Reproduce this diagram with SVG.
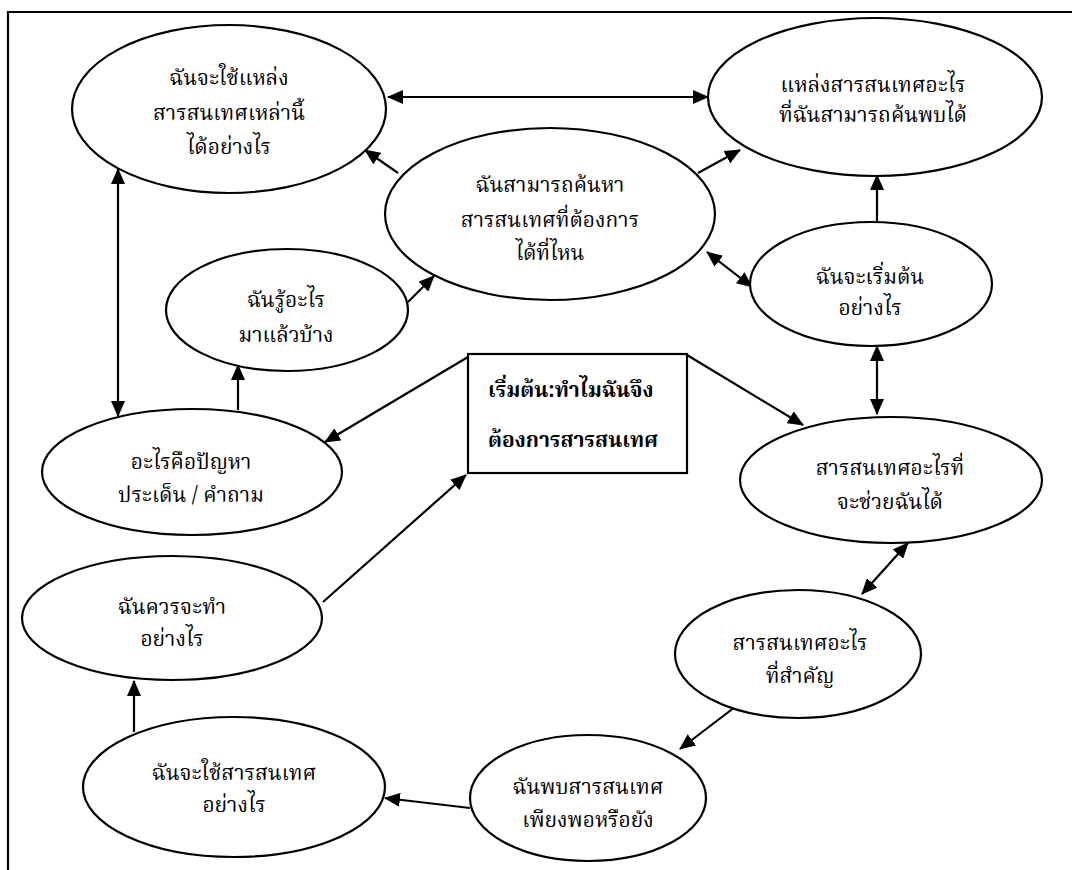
<svg xmlns="http://www.w3.org/2000/svg" width="1072" height="870" viewBox="0 0 1072 870">
<defs>
<style>
.n{fill:#fff;stroke:#000;stroke-width:2.2}
.t{font-family:"Noto Serif Thai","Norasi","Noto Sans Thai","Liberation Serif","DejaVu Serif",serif;font-size:21px;fill:#000;text-anchor:middle}
.b{font-family:"Noto Serif Thai","Norasi","Noto Sans Thai","Liberation Serif","DejaVu Serif",serif;font-size:21px;font-weight:bold;fill:#000}
.c{fill:none;stroke:#000;stroke-width:2.2}
</style>
<marker id="ah" markerUnits="userSpaceOnUse" markerWidth="16" markerHeight="14" viewBox="0 0 16 14" refX="15" refY="7" orient="auto-start-reverse">
<path d="M0,0 L16,7 L0,14 z" fill="#000"/>
</marker>
</defs>
<rect width="1072" height="870" fill="#fff"/>
<path d="M8,870 V12 H1072" fill="none" stroke="#000" stroke-width="2.2"/>

<g id="connectors">
<line class="c" x1="388" y1="97" x2="708" y2="97" marker-start="url(#ah)" marker-end="url(#ah)"/>
<line class="c" x1="398" y1="173" x2="365" y2="150" marker-end="url(#ah)"/>
<line class="c" x1="698" y1="173" x2="740" y2="150" marker-end="url(#ah)"/>
<line class="c" x1="118" y1="169" x2="118" y2="416" marker-start="url(#ah)" marker-end="url(#ah)"/>
<line class="c" x1="408" y1="302" x2="434" y2="276" marker-end="url(#ah)"/>
<line class="c" x1="238" y1="410" x2="238" y2="365" marker-end="url(#ah)"/>
<line class="c" x1="468" y1="357" x2="325" y2="442" marker-end="url(#ah)"/>
<line class="c" x1="687" y1="355" x2="803" y2="425" marker-end="url(#ah)"/>
<line class="c" x1="707" y1="252" x2="752" y2="287" marker-start="url(#ah)" marker-end="url(#ah)"/>
<line class="c" x1="877" y1="222" x2="877" y2="175" marker-end="url(#ah)"/>
<line class="c" x1="877" y1="346" x2="877" y2="414" marker-start="url(#ah)" marker-end="url(#ah)"/>
<line class="c" x1="908" y1="543" x2="862" y2="594" marker-start="url(#ah)" marker-end="url(#ah)"/>
<line class="c" x1="735" y1="707" x2="680" y2="749" marker-end="url(#ah)"/>
<line class="c" x1="470" y1="808" x2="385" y2="798" marker-end="url(#ah)"/>
<line class="c" x1="134" y1="732" x2="134" y2="681" marker-end="url(#ah)"/>
<line class="c" x1="323" y1="602" x2="466" y2="475" marker-end="url(#ah)"/>
</g>

<g id="n1"><ellipse class="n" cx="229" cy="109" rx="157" ry="84"/>
<text class="t" x="229" y="85">ฉันจะใช้แหล่ง</text>
<text class="t" x="229" y="120">สารสนเทศเหล่านี้</text>
<text class="t" x="229" y="154">ได้อย่างไร</text></g>

<g id="n2"><ellipse class="n" cx="875" cy="97" rx="167" ry="79"/>
<text class="t" x="873" y="92">แหล่งสารสนเทศอะไร</text>
<text class="t" x="873" y="122">ที่ฉันสามารถค้นพบได้</text></g>

<g id="n3"><ellipse class="n" cx="550" cy="214" rx="165" ry="86"/>
<text class="t" x="550" y="192">ฉันสามารถค้นหา</text>
<text class="t" x="550" y="227">สารสนเทศที่ต้องการ</text>
<text class="t" x="550" y="260">ได้ที่ไหน</text></g>

<g id="n4"><ellipse class="n" cx="871" cy="284" rx="121" ry="62"/>
<text class="t" x="870" y="284">ฉันจะเริ่มต้น</text>
<text class="t" x="870" y="315">อย่างไร</text></g>

<g id="n5"><ellipse class="n" cx="287" cy="310" rx="121" ry="61"/>
<text class="t" x="286" y="307">ฉันรู้อะไร</text>
<text class="t" x="286" y="342">มาแล้วบ้าง</text></g>

<g id="n6"><ellipse class="n" cx="192" cy="472" rx="150" ry="63"/>
<text class="t" x="191" y="469">อะไรคือปัญหา</text>
<text class="t" x="191" y="502">ประเด็น / คำถาม</text></g>

<g id="start"><rect class="n" x="468" y="354" width="219" height="119"/>
<text class="b" x="488" y="397">เริ่มต้น:ทำไมฉันจึง</text>
<text class="b" x="488" y="447">ต้องการสารสนเทศ</text></g>

<g id="n7"><ellipse class="n" cx="891" cy="480" rx="151" ry="63"/>
<text class="t" x="890" y="475">สารสนเทศอะไรที่</text>
<text class="t" x="890" y="509">จะช่วยฉันได้</text></g>

<g id="n8"><ellipse class="n" cx="798" cy="654" rx="123" ry="64"/>
<text class="t" x="800" y="650">สารสนเทศอะไร</text>
<text class="t" x="800" y="683">ที่สำคัญ</text></g>

<g id="n9"><ellipse class="n" cx="588" cy="798" rx="118" ry="63"/>
<text class="t" x="588" y="794">ฉันพบสารสนเทศ</text>
<text class="t" x="588" y="827">เพียงพอหรือยัง</text></g>

<g id="n10"><ellipse class="n" cx="172" cy="618" rx="150" ry="62"/>
<text class="t" x="172" y="614">ฉันควรจะทำ</text>
<text class="t" x="172" y="646">อย่างไร</text></g>

<g id="n11"><ellipse class="n" cx="234" cy="787" rx="151" ry="70"/>
<text class="t" x="234" y="780">ฉันจะใช้สารสนเทศ</text>
<text class="t" x="234" y="812">อย่างไร</text></g>
</svg>
